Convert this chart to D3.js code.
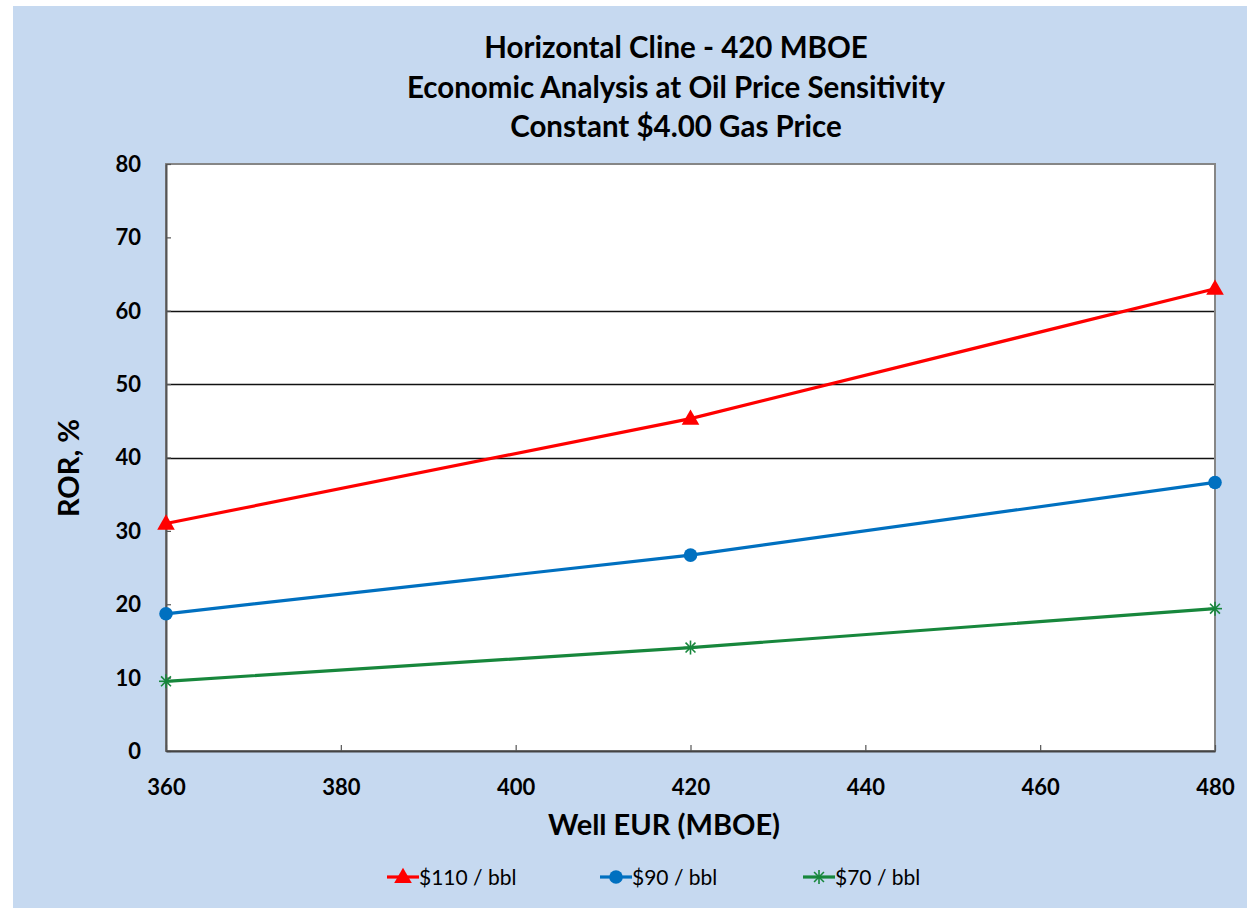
<!DOCTYPE html>
<html>
<head>
<meta charset="utf-8">
<script src="https://cdn.jsdelivr.net/npm/d3@7"></script>
<style>
  html, body { margin: 0; padding: 0; background: #ffffff; }
  svg { display: block; }
  text { font-family: Lato, "Open Sans", "DejaVu Sans", sans-serif; fill: #000; }
</style>
</head>
<body>
<svg id="chart" width="1247" height="908"></svg>
<script>
// Well EUR (MBOE) on the x axis
const wellEUR = [360, 420, 480];
// ROR (%) at each oil price
const ror110 = [31.0, 45.3, 63.0];
const ror90  = [18.7, 26.7, 36.6];
const ror70  = [9.5, 14.1, 19.4];

const seriesNames = ["$110 / bbl", "$90 / bbl", "$70 / bbl"];
const xTicks = [360, 380, 400, 420, 440, 460, 480];
const yTicks = [0, 10, 20, 30, 40, 50, 60, 70, 80];
const gridValues = [40, 50, 60];
const titleLines = [
  "Horizontal Cline - 420 MBOE",
  "Economic Analysis at Oil Price Sensitivity",
  "Constant $4.00 Gas Price"
];

const svg = d3.select("#chart");

// chart area background
svg.append("rect")
  .attr("x", 13).attr("y", 6)
  .attr("width", 1234).attr("height", 902)
  .attr("fill", "#c6d9f0");

const plot = { left: 166, right: 1215, top: 164, bottom: 751 };

const x = d3.scaleLinear().domain([360, 480]).range([plot.left, plot.right]);
const y = d3.scaleLinear().domain([0, 80]).range([plot.bottom, plot.top]);

// plot area
svg.append("rect")
  .attr("x", plot.left).attr("y", plot.top)
  .attr("width", plot.right - plot.left).attr("height", plot.bottom - plot.top)
  .attr("fill", "#ffffff");

// horizontal gridlines
svg.append("g").selectAll("line")
  .data(gridValues)
  .join("line")
  .attr("x1", plot.left).attr("x2", plot.right)
  .attr("y1", d => Math.round(y(d)) + 0.5).attr("y2", d => Math.round(y(d)) + 0.5)
  .attr("stroke", "#111").attr("stroke-width", 1.4);

// plot frame
svg.append("rect")
  .attr("x", plot.left).attr("y", plot.top)
  .attr("width", plot.right - plot.left).attr("height", plot.bottom - plot.top)
  .attr("fill", "none").attr("stroke", "#868686").attr("stroke-width", 2);

// axes
const yAxis = d3.axisLeft(y).tickValues(yTicks).tickSizeInner(-5).tickSizeOuter(0).tickPadding(31);
const gy = svg.append("g").attr("transform", `translate(${plot.left},0)`).call(yAxis);
gy.select(".domain").attr("stroke", "#555").attr("stroke-width", 2);
gy.selectAll(".tick line").attr("stroke", "#555").attr("stroke-width", 1.2);
gy.selectAll(".tick text")
  .attr("font-size", 22).attr("font-weight", "bold")
  .attr("font-family", "Lato, 'Open Sans', sans-serif")
  .attr("fill", "#000").attr("text-anchor", "end").attr("dx", 6).attr("dy", "0.34em");

const xAxis = d3.axisBottom(x).tickValues(xTicks).tickSizeInner(-6).tickSizeOuter(0).tickPadding(28);
const gx = svg.append("g").attr("transform", `translate(0,${plot.bottom})`).call(xAxis);
gx.select(".domain").attr("stroke", "#444").attr("stroke-width", 2);
gx.selectAll(".tick line").attr("stroke", "#555").attr("stroke-width", 1.2);
gx.selectAll(".tick text")
  .attr("font-size", 22).attr("font-weight", "bold")
  .attr("font-family", "Lato, 'Open Sans', sans-serif")
  .attr("fill", "#000");

// title
svg.append("g").selectAll("text")
  .data(titleLines)
  .join("text")
  .attr("x", 676).attr("y", (d, i) => 58 + i * 39.5)
  .attr("text-anchor", "middle")
  .attr("font-size", 29.5).attr("font-weight", "bold")
  .text(d => d);

// axis titles
svg.append("text")
  .attr("x", 664).attr("y", 835)
  .attr("text-anchor", "middle")
  .attr("font-size", 29).attr("font-weight", "bold")
  .text("Well EUR (MBOE)");

svg.append("text")
  .attr("transform", "translate(79,468) rotate(-90)")
  .attr("text-anchor", "middle")
  .attr("font-size", 29).attr("font-weight", "bold")
  .text("ROR, %");

// series
const series = [
  { name: seriesNames[0], values: ror110, color: "#ff0000", marker: "triangle" },
  { name: seriesNames[1], values: ror90,  color: "#0070c0", marker: "circle" },
  { name: seriesNames[2], values: ror70,  color: "#17873c", marker: "star" }
];

const line = d3.line().x(d => x(d[0])).y(d => y(d[1]));

function drawMarker(g, type, color, cx, cy) {
  if (type === "triangle") {
    g.append("path")
      .attr("d", d3.symbol().type(d3.symbolTriangle).size(135)())
      .attr("transform", `translate(${cx},${cy + 1})`)
      .attr("fill", color);
  } else if (type === "circle") {
    g.append("circle").attr("cx", cx).attr("cy", cy).attr("r", 6.8).attr("fill", color);
  } else {
    const r = 7;
    const star = g.append("g").attr("transform", `translate(${cx},${cy})`)
      .attr("stroke", color).attr("stroke-width", 1.6);
    [0, 45, 90, 135].forEach(a => {
      const rad = a * Math.PI / 180;
      star.append("line")
        .attr("x1", -r * Math.cos(rad)).attr("y1", -r * Math.sin(rad))
        .attr("x2", r * Math.cos(rad)).attr("y2", r * Math.sin(rad));
    });
  }
}

series.forEach(s => {
  const pts = wellEUR.map((v, i) => [v, s.values[i]]);
  const g = svg.append("g");
  g.append("path").datum(pts)
    .attr("d", line)
    .attr("fill", "none").attr("stroke", s.color).attr("stroke-width", 3.2);
  pts.forEach(p => drawMarker(g, s.marker, s.color, x(p[0]), y(p[1])));
});

// legend
const legendX = [387, 600, 803];
const legend = svg.append("g");
series.forEach((s, i) => {
  const lx = legendX[i];
  const ly = 877;
  legend.append("line")
    .attr("x1", lx).attr("x2", lx + 32)
    .attr("y1", ly).attr("y2", ly)
    .attr("stroke", s.color).attr("stroke-width", 3.2);
  drawMarker(legend, s.marker, s.color, lx + 16, ly);
  legend.append("text")
    .attr("x", lx + 32).attr("y", ly + 7.5)
    .attr("font-size", 21)
    .text(s.name);
});
</script>
</body>
</html>
